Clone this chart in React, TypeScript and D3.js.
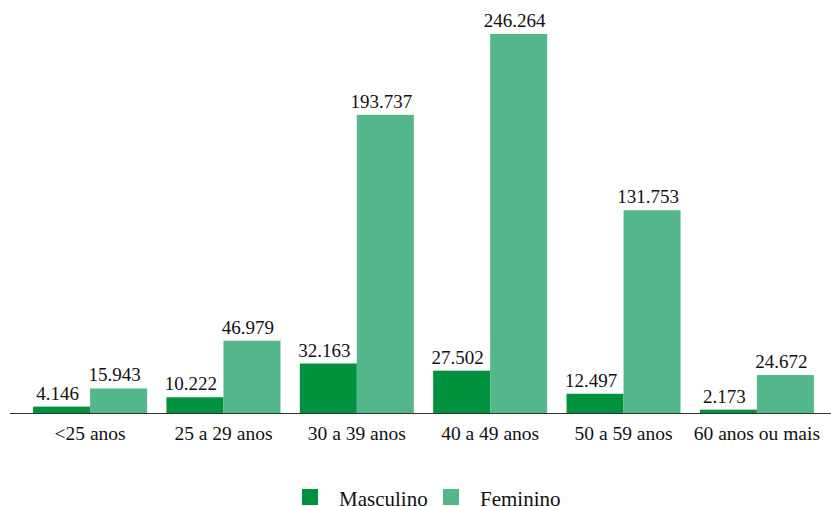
import React from 'react';
import * as d3 from 'd3';

// faixas etárias
const categories = ['<25 anos', '25 a 29 anos', '30 a 39 anos', '40 a 49 anos', '50 a 59 anos', '60 anos ou mais'];
const masculino = [4146, 10222, 32163, 27502, 12497, 2173];
const feminino = [15943, 46979, 193737, 246264, 131753, 24672];
const seriesNames = ['Masculino', 'Feminino'];
const seriesColors = ['#00913f', '#53b78b'];

const fmt = (v: number) => d3.format(',')(v).replace(/,/g, '.');
const textStyle = { fontFamily: 'Liberation Serif' };

export default function App() {
  const width = 831;
  const height = 506;
  const baseY = 413;

  const x = d3.scaleBand<string>().domain(categories).range([23.5, 823.5]).paddingInner(0.145).paddingOuter(0.072);
  const xSub = d3.scaleBand<string>().domain(seriesNames).range([0, x.bandwidth()]);
  const y = d3.scaleLinear().domain([0, 246264]).range([baseY, 34]);

  const series = [masculino, feminino];

  return (
    <svg width={width} height={height} style={{ position: 'absolute', left: 0, top: 0 }}>
      {categories.map((cat, i) => (
        <g key={cat} transform={`translate(${x(cat)},0)`}>
          {series.map((vals, s) => {
            const v = vals[i];
            const bx = xSub(seriesNames[s]) as number;
            return (
              <g key={s}>
                <rect x={bx} y={y(v)} width={xSub.bandwidth()} height={baseY - y(v)} fill={seriesColors[s]} />
                {/* rótulo levemente deslocado à esquerda, como no original */}
                <text
                  x={bx + xSub.bandwidth() / 2 - 4}
                  y={y(v) - 7}
                  textAnchor="middle"
                  style={textStyle}
                  fontSize={19}
                  fill="#111">
                  {fmt(v)}
                </text>
              </g>
            );
          })}
          <text x={x.bandwidth() / 2} y={440} textAnchor="middle" style={textStyle} fontSize={19.5} fill="#111">
            {cat}
          </text>
        </g>
      ))}

      {/* eixo */}
      <line x1={10} x2={831} y1={baseY + 0.5} y2={baseY + 0.5} stroke="#333" strokeWidth={1} />

      {/* legenda */}
      {seriesNames.map((name, s) => {
        const lx = s === 0 ? 302 : 443;
        return (
          <g key={name}>
            <rect x={lx} y={489} width={16} height={16} fill={seriesColors[s]} />
            <text x={lx + 37} y={506} style={textStyle} fontSize={21} fill="#111">
              {name}
            </text>
          </g>
        );
      })}
    </svg>
  );
}
